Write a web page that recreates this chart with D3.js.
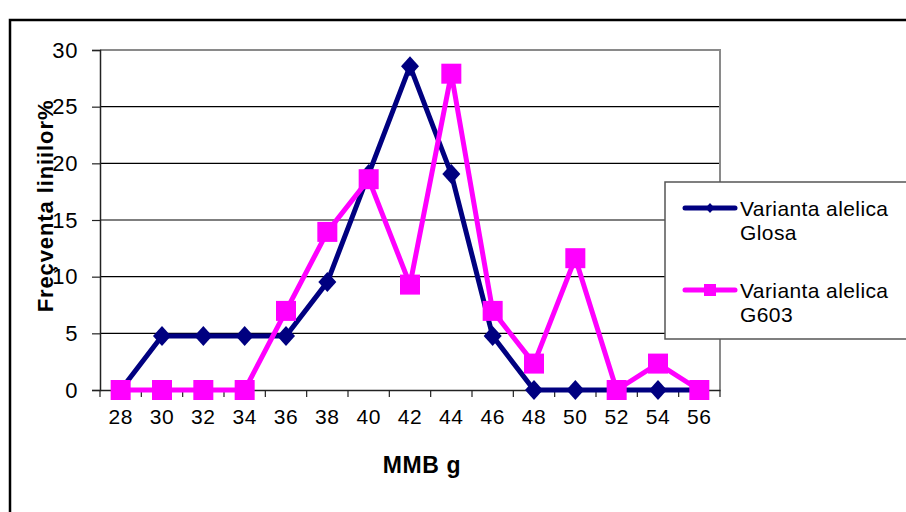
<!DOCTYPE html>
<html>
<head>
<meta charset="utf-8">
<script src="https://cdn.jsdelivr.net/npm/d3@7/dist/d3.min.js"></script>
<style>
  html, body { margin: 0; padding: 0; background: #fff; }
  svg { display: block; font-family: Arial, "Liberation Sans", sans-serif; }
</style>
</head>
<body>
<svg id="chart" width="906" height="512"></svg>
<script>
// MMB classes (g)
const categories = [28, 30, 32, 34, 36, 38, 40, 42, 44, 46, 48, 50, 52, 54, 56];
// Line frequency (%) per allelic variant
const glosaValues = [0, 4.76, 4.76, 4.76, 4.76, 9.52, 19.05, 28.57, 19.05, 4.76, 0, 0, 0, 0, 0];
const g603Values  = [0, 0, 0, 0, 6.98, 13.95, 18.6, 9.3, 27.91, 6.98, 2.33, 11.63, 0, 2.33, 0];
const yTicks = [0, 5, 10, 15, 20, 25, 30];
const seriesNames = [["Varianta alelica", "Glosa"], ["Varianta alelica", "G603"]];
const xTitle = "MMB g";
const yTitle = "Freçventa liniilor%";

const svg = d3.select("#chart");
const plot = { left: 100, right: 720, top: 50, bottom: 390 };
const FONT = "Arial, 'Liberation Sans', sans-serif";

const x = d3.scaleBand().domain(categories).range([plot.left, plot.right]).padding(0);
const y = d3.scaleLinear().domain([0, 30]).range([plot.bottom, plot.top]);
const cx = c => x(c) + x.bandwidth() / 2;

// outer frame
svg.append("rect")
  .attr("x", 10).attr("y", 20).attr("width", 1000).attr("height", 600)
  .attr("fill", "none").attr("stroke", "#000").attr("stroke-width", 2.5);

// horizontal gridlines
svg.append("g").selectAll("line")
  .data(yTicks.filter(t => t > 0 && t < 30))
  .join("line")
  .attr("x1", plot.left).attr("x2", plot.right)
  .attr("y1", d => y(d)).attr("y2", d => y(d))
  .attr("stroke", "#000").attr("stroke-width", 1.2);

// plot area border (top / right)
svg.append("path")
  .attr("d", `M${plot.left},${y(30)}H${plot.right}V${plot.bottom}`)
  .attr("fill", "none").attr("stroke", "#8a8a8a").attr("stroke-width", 2);

// y axis
const yAxis = svg.append("g")
  .attr("transform", `translate(${plot.left},0)`)
  .call(d3.axisLeft(y).tickValues(yTicks).tickSize(8).tickPadding(14));
yAxis.select(".domain").attr("stroke", "#222").attr("stroke-width", 1.5);
yAxis.selectAll(".tick line").attr("stroke", "#222").attr("stroke-width", 1.2);
yAxis.selectAll(".tick text")
  .attr("font-size", 22).attr("letter-spacing", 0.6).attr("fill", "#000")
  .attr("font-family", FONT);

// x axis: labels at category centres, ticks at category boundaries
const xAxis = svg.append("g")
  .attr("transform", `translate(0,${plot.bottom})`)
  .call(d3.axisBottom(x).tickSize(0).tickPadding(19));
xAxis.select(".domain").attr("stroke", "#222").attr("stroke-width", 1.5);
xAxis.selectAll(".tick text")
  .attr("font-size", 21).attr("letter-spacing", 0.6).attr("fill", "#000")
  .attr("font-family", FONT);
const bounds = categories.map(c => x(c)).concat([x(categories[categories.length - 1]) + x.bandwidth()]);
svg.append("g").selectAll("line")
  .data(bounds)
  .join("line")
  .attr("x1", d => d).attr("x2", d => d)
  .attr("y1", plot.bottom).attr("y2", plot.bottom + 7)
  .attr("stroke", "#222").attr("stroke-width", 1.2);

// axis titles
svg.append("text")
  .attr("x", 422).attr("y", 473)
  .attr("text-anchor", "middle")
  .attr("font-size", 23).attr("font-weight", "bold")
  .attr("letter-spacing", 0.6)
  .text(xTitle);

svg.append("text")
  .attr("transform", "translate(45,206) rotate(-90)")
  .attr("text-anchor", "middle")
  .attr("dominant-baseline", "central")
  .attr("font-size", 22).attr("font-weight", "bold")
  .attr("letter-spacing", 0.9)
  .text(yTitle);

const line = d3.line().x((d, i) => cx(categories[i])).y(d => y(d));

// series: Glosa (navy diamonds)
const navy = "#000080", pink = "#FF00FF";
svg.append("path").datum(glosaValues)
  .attr("d", line).attr("fill", "none")
  .attr("stroke", navy).attr("stroke-width", 5).attr("stroke-linejoin", "round");
const diamond = (s) => `M0,${-s}L${s * 0.9},0L0,${s}L${-s * 0.9},0Z`;
svg.append("g").selectAll("path")
  .data(glosaValues)
  .join("path")
  .attr("transform", (d, i) => `translate(${cx(categories[i])},${y(d)})`)
  .attr("d", diamond(10))
  .attr("fill", navy);

// series: G603 (magenta squares)
svg.append("path").datum(g603Values)
  .attr("d", line).attr("fill", "none")
  .attr("stroke", pink).attr("stroke-width", 5).attr("stroke-linejoin", "round");
svg.append("g").selectAll("rect")
  .data(g603Values)
  .join("rect")
  .attr("x", (d, i) => cx(categories[i]) - 10)
  .attr("y", d => y(d) - 10)
  .attr("width", 20).attr("height", 20)
  .attr("fill", pink);

// legend
const legend = svg.append("g");
legend.append("rect")
  .attr("x", 665).attr("y", 182).attr("width", 300).attr("height", 157)
  .attr("fill", "#fff").attr("stroke", "#555").attr("stroke-width", 1.5);

const legendRows = [
  { name: seriesNames[0], color: navy, y: 208, marker: "diamond" },
  { name: seriesNames[1], color: pink, y: 290, marker: "square" }
];
legendRows.forEach(r => {
  legend.append("line")
    .attr("x1", 685).attr("x2", 735).attr("y1", r.y).attr("y2", r.y)
    .attr("stroke", r.color).attr("stroke-width", 5).attr("stroke-linecap", "round");
  if (r.marker === "diamond") {
    legend.append("path")
      .attr("transform", `translate(710,${r.y})`)
      .attr("d", diamond(5)).attr("fill", r.color);
  } else {
    legend.append("rect")
      .attr("x", 704).attr("y", r.y - 6).attr("width", 12).attr("height", 12)
      .attr("fill", r.color);
  }
  const t = legend.append("text")
    .attr("x", 740).attr("y", r.y + 8)
    .attr("font-size", 21).attr("letter-spacing", 0.4).attr("fill", "#000");
  t.append("tspan").attr("x", 740).text(r.name[0]);
  t.append("tspan").attr("x", 740).attr("dy", 24).text(r.name[1]);
});
</script>
</body>
</html>
